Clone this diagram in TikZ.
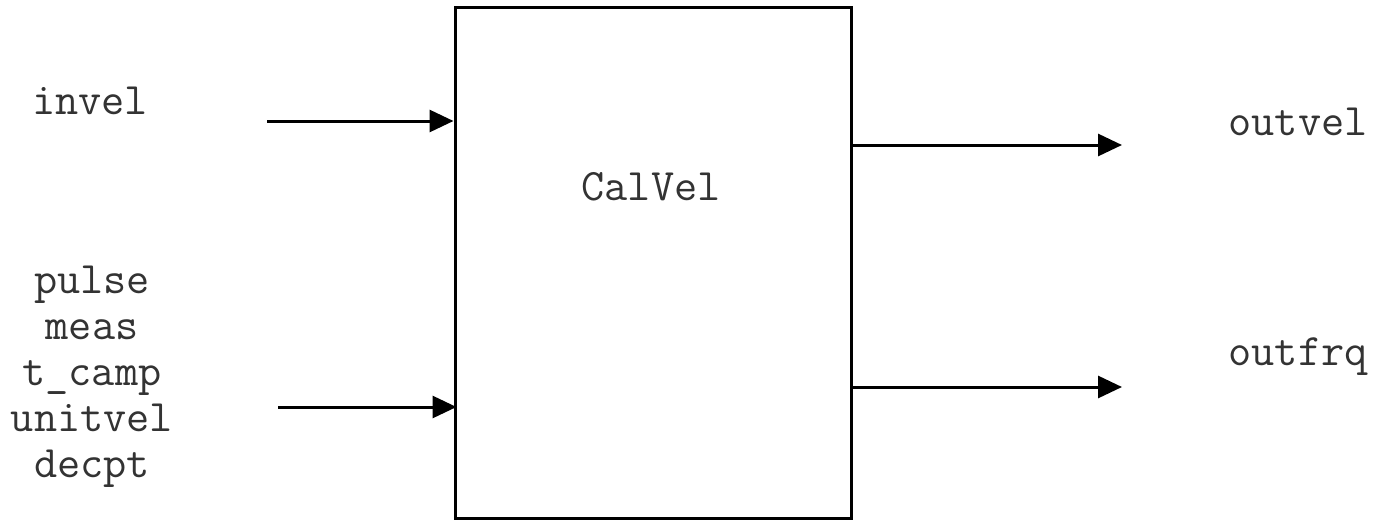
\documentclass[tikz,border=0pt]{standalone}
\usepackage{fontspec}
\usetikzlibrary{arrows.meta}
\begin{document}
\begin{tikzpicture}[x=1pt,y=-1pt,
  lbl/.style={font=\ttfamily\fontsize{45}{46}\selectfont, text=black!80, inner sep=0pt, align=center},
  blk/.style={draw, line width=3pt, minimum width=396pt, minimum height=511pt, inner sep=0pt},
  sig/.style={line width=3pt, -{Triangle[length=24pt,width=22pt]}}]
\useasboundingbox (0,0) rectangle (1387,522);
\node[blk] (box) at (653,263) {};
\node[lbl] (calvel) at (651,187) {CalVel};
\node[lbl] (invel) at (90,101) {invel};
\node[lbl] (ins) at (92,377) {pulse\\meas\\t\_camp\\unitvel\\decpt};
\node[lbl] (outvel) at (1298,122) {outvel};
\node[lbl] (outfrq) at (1298,357) {outfrq};
\coordinate (a1) at (267,121);
\coordinate (a2) at (278,407);
\coordinate (b1) at (1122,145);
\coordinate (b2) at (1122,387);
\draw[sig] (a1) -- (a1 -| box.west);
\draw[sig] (a2) -- ([xshift=3pt]a2 -| box.west);
\draw[sig] (b1 -| box.east) -- (b1);
\draw[sig] (b2 -| box.east) -- (b2);
\end{tikzpicture}
\end{document}
